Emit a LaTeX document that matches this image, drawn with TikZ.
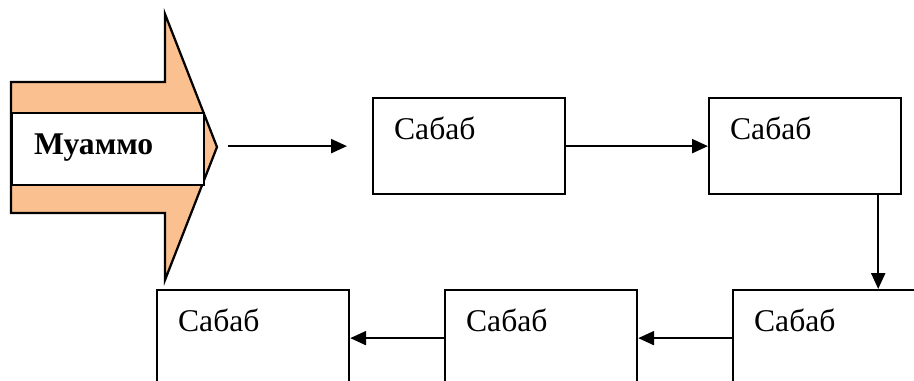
\documentclass[tikz,border=0pt]{standalone}
\usepackage{fontspec}
\setmainfont{Liberation Serif}
\usetikzlibrary{arrows.meta}
\definecolor{peach}{RGB}{250,192,143}
\begin{document}
\begin{tikzpicture}[x=0.02cm, y=-0.02cm, line width=0.045cm,
        font=\fontsize{18}{22}\selectfont,
        cause/.style={draw, rectangle, anchor=north west, inner sep=0pt, inner xsep=0.42cm,
            text width=3cm, align=left, text height=0.82cm, text depth=1.1cm},
        link/.style={-{Triangle[length=0.32cm, width=0.28cm]}}]
    \clip (0,0) rectangle (914,380);
    \draw[fill=peach]
        (11,82) -- (165,82) -- (165,14) -- (217,147)
        -- (165,280) -- (165,213) -- (11,213) -- cycle;
    \coordinate (tip) at (217,147);
    \node[cause, fill=white, font=\fontsize{18}{22}\selectfont\bfseries, inner xsep=0.44cm,
        text width=2.96cm, text depth=0.62cm] (problem) at (11,112) {Муаммо};
    \node[cause] (c1) at (372,97) {Сабаб};
    \node[cause] (c2) at (708,97) {Сабаб};
    \node[cause] (c3) at (732,289) {Сабаб};
    \node[cause] (c4) at (444,289) {Сабаб};
    \node[cause] (c5) at (156,289) {Сабаб};
    \draw[link, shorten <=0.22cm, shorten >=0.5cm] (c1.west -| tip) -- (c1.west);
    \draw[link] (c1) -- (c2);
    \draw[link] ([xshift=-0.48cm]c2.south east) -- ([xshift=-0.48cm]c2.south east |- c3.north);
    \draw[link] (c3) -- (c4);
    \draw[link] (c4) -- (c5);
\end{tikzpicture}
\end{document}
